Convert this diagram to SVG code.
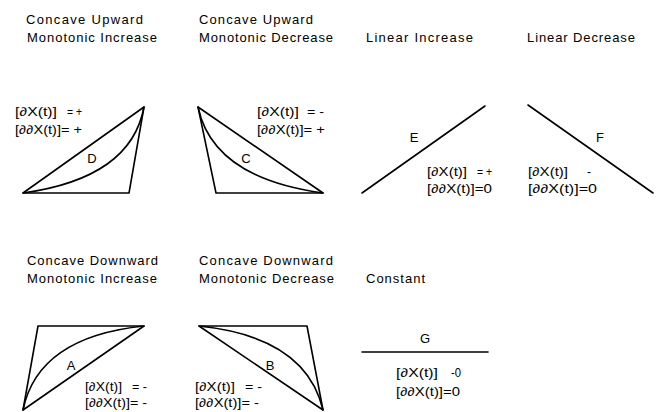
<svg xmlns="http://www.w3.org/2000/svg" width="667" height="412" viewBox="0 0 667 412">
<style>
.bg{fill:#fff}
.ln{fill:none;stroke:#000;stroke-width:1.6;stroke-linecap:round;stroke-linejoin:round}
.t{font-family:"Liberation Sans","DejaVu Sans",sans-serif;font-size:13px;fill:#000}
.l{font-family:"Liberation Sans","DejaVu Sans",sans-serif;font-size:12px;fill:#000}
.k{font-family:"Liberation Sans","DejaVu Sans",sans-serif;font-size:13px;fill:#000;text-anchor:middle}
</style>
<rect class="bg" width="667" height="412"/>
<g id="titles">
<text class="t" x="26" y="24" textLength="117" lengthAdjust="spacing">Concave Upward</text>
<text class="t" x="27" y="42" textLength="130" lengthAdjust="spacing">Monotonic Increase</text>
<text class="t" x="199" y="24" textLength="114" lengthAdjust="spacing">Concave Upward</text>
<text class="t" x="199" y="42" textLength="134" lengthAdjust="spacing">Monotonic Decrease</text>
<text class="t" x="366" y="42" textLength="107" lengthAdjust="spacing">Linear Increase</text>
<text class="t" x="527" y="42" textLength="108" lengthAdjust="spacing">Linear Decrease</text>
<text class="t" x="27" y="265" textLength="131" lengthAdjust="spacing">Concave Downward</text>
<text class="t" x="27" y="283" textLength="130" lengthAdjust="spacing">Monotonic Increase</text>
<text class="t" x="199" y="265" textLength="134" lengthAdjust="spacing">Concave Downward</text>
<text class="t" x="199" y="283" textLength="135" lengthAdjust="spacing">Monotonic Decrease</text>
<text class="t" x="366" y="283" textLength="59" lengthAdjust="spacing">Constant</text>
</g>
<g id="connectors">
<g id="shape-D">
<path class="ln" d="M23,193 L144,107 L129,193 Z"/>
<path class="ln" d="M23,193 Q131,178 144,107"/>
</g>
<g id="shape-C">
<path class="ln" d="M198,107 L323,193 L216,193 Z"/>
<path class="ln" d="M198,107 Q213,178 323,193"/>
</g>
<g id="shape-E"><path class="ln" d="M362,193 L485,106"/></g>
<g id="shape-F"><path class="ln" d="M528,105 L653,193"/></g>
<g id="shape-A">
<path class="ln" d="M23,410 L38,326 L144,326 Z"/>
<path class="ln" d="M23,410 Q38,337 144,326"/>
</g>
<g id="shape-B">
<path class="ln" d="M199,326 L307,326 L323,410 Z"/>
<path class="ln" d="M199,326 Q306,337 323,410"/>
</g>
<g id="shape-G"><path class="ln" d="M362,352 L488,352"/></g>
</g>
<g id="node-D">
<text class="k" x="92" y="163">D</text>
<text class="l" x="15" y="116" textLength="42" lengthAdjust="spacingAndGlyphs">[∂X(t)]</text>
<text class="l" x="67" y="116" textLength="15" lengthAdjust="spacingAndGlyphs">= +</text>
<text class="l" x="15" y="134" textLength="67" lengthAdjust="spacingAndGlyphs">[∂∂X(t)]= +</text>
</g>
<g id="node-C">
<text class="k" x="246" y="163">C</text>
<text class="l" x="257" y="116" textLength="42" lengthAdjust="spacingAndGlyphs">[∂X(t)]</text>
<text class="l" x="307" y="116" textLength="17" lengthAdjust="spacingAndGlyphs">= -</text>
<text class="l" x="257" y="134" textLength="68" lengthAdjust="spacingAndGlyphs">[∂∂X(t)]= +</text>
</g>
<g id="node-E">
<text class="k" x="414" y="142">E</text>
<text class="l" x="427" y="176" textLength="40" lengthAdjust="spacingAndGlyphs">[∂X(t)]</text>
<text class="l" x="477" y="176" textLength="15" lengthAdjust="spacingAndGlyphs">= +</text>
<text class="l" x="427" y="193" textLength="65" lengthAdjust="spacingAndGlyphs">[∂∂X(t)]=0</text>
</g>
<g id="node-F">
<text class="k" x="600" y="142">F</text>
<text class="l" x="528" y="176" textLength="40" lengthAdjust="spacingAndGlyphs">[∂X(t)]</text>
<text class="l" x="587" y="176">-</text>
<text class="l" x="528" y="193" textLength="69" lengthAdjust="spacingAndGlyphs">[∂∂X(t)]=0</text>
</g>
<g id="node-A">
<text class="k" x="71" y="370">A</text>
<text class="l" x="85" y="391" textLength="37" lengthAdjust="spacingAndGlyphs">[∂X(t)]</text>
<text class="l" x="132" y="391" textLength="15" lengthAdjust="spacingAndGlyphs">= -</text>
<text class="l" x="85" y="407" textLength="62" lengthAdjust="spacingAndGlyphs">[∂∂X(t)]= -</text>
</g>
<g id="node-B">
<text class="k" x="270" y="370">B</text>
<text class="l" x="195" y="391" textLength="40" lengthAdjust="spacingAndGlyphs">[∂X(t)]</text>
<text class="l" x="245" y="391" textLength="17" lengthAdjust="spacingAndGlyphs">= -</text>
<text class="l" x="195" y="407" textLength="64" lengthAdjust="spacingAndGlyphs">[∂∂X(t)]= -</text>
</g>
<g id="node-G">
<text class="k" x="425" y="343">G</text>
<text class="l" x="396" y="377" textLength="42" lengthAdjust="spacingAndGlyphs">[∂X(t)]</text>
<text class="l" x="451" y="377" textLength="10" lengthAdjust="spacingAndGlyphs">-0</text>
<text class="l" x="396" y="396" textLength="64" lengthAdjust="spacingAndGlyphs">[∂∂X(t)]=0</text>
</g>
</svg>
